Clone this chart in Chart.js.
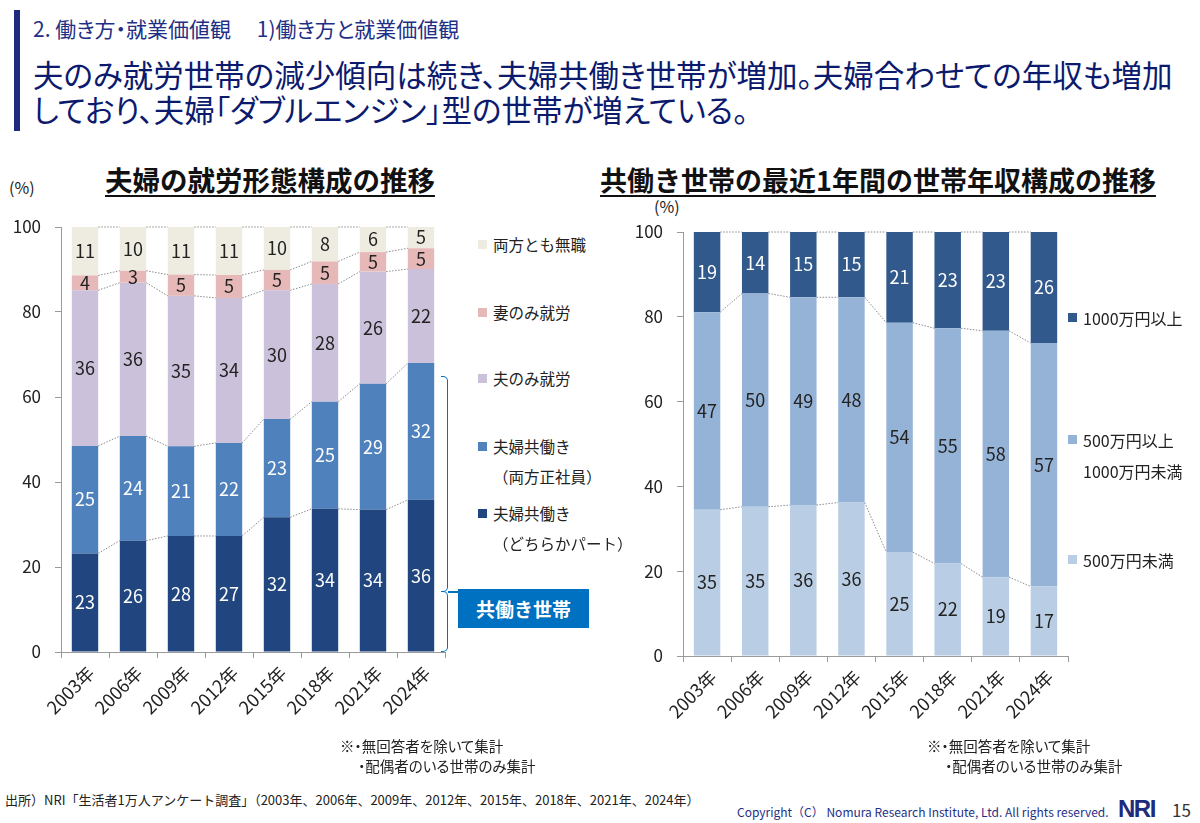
<!DOCTYPE html>
<html lang="ja">
<head>
<meta charset="utf-8">
<script src="https://cdn.jsdelivr.net/npm/chart.js@4.4.1/dist/chart.umd.min.js"></script>
<style>
  body { margin:0; width:1200px; height:823px; position:relative; overflow:hidden; background:#fff;
         font-family:"Noto Sans CJK JP","Noto Sans",sans-serif; color:#111; }
  .t { position:absolute; white-space:nowrap; line-height:1; }
  .p { font-feature-settings:"palt"; }
  .sq { position:absolute; width:9px; height:9px; }
  canvas { position:absolute; }
</style>
</head>
<body>

<div style="position:absolute;left:14px;top:10px;width:6px;height:121px;background:#1f2a7c"></div>
<div class="t p" style="left:33px;top:18px;font-size:21px;color:#1f2f86">2. 働き方・就業価値観　 1)働き方と就業価値観</div>
<div class="t p" style="left:33px;top:59px;font-size:30.5px;color:#0c1a6e">夫のみ就労世帯の減少傾向は続き、夫婦共働き世帯が増加。夫婦合わせての年収も増加</div>
<div class="t p" style="left:33px;top:94px;font-size:30.5px;color:#0c1a6e">しており、夫婦「ダブルエンジン」型の世帯が増えている。</div>

<div class="t" style="left:105px;top:166px;font-size:27.5px;font-weight:bold;text-decoration:underline;text-underline-offset:4px">夫婦の就労形態構成の推移</div>
<div class="t" style="left:600px;top:166px;font-size:27px;font-weight:bold;text-decoration:underline;text-underline-offset:4px">共働き世帯の最近1年間の世帯年収構成の推移</div>

<div class="t" style="left:9px;top:179px;font-size:16px;color:#222">(%)</div>
<div class="t" style="left:654px;top:198px;font-size:16px;color:#222">(%)</div>

<canvas id="left" width="452" height="540" style="left:0;top:200px"></canvas>
<canvas id="right" width="455" height="540" style="left:620px;top:205px"></canvas>

<!-- left legend -->
<div class="sq" style="left:478px;top:240px;background:#eeece1"></div>
<div class="t" style="left:493px;top:237px;font-size:15.5px;color:#222">両方とも無職</div>
<div class="sq" style="left:478px;top:308px;background:#e6b9b8"></div>
<div class="t" style="left:493px;top:305px;font-size:15.5px;color:#222">妻のみ就労</div>
<div class="sq" style="left:478px;top:374px;background:#ccc1da"></div>
<div class="t" style="left:493px;top:371px;font-size:15.5px;color:#222">夫のみ就労</div>
<div class="sq" style="left:478px;top:442px;background:#4f81bd"></div>
<div class="t" style="left:493px;top:439px;font-size:15.5px;color:#222">夫婦共働き</div>
<div class="t" style="left:493px;top:469px;font-size:15.5px;color:#222">（両方正社員）</div>
<div class="sq" style="left:478px;top:509px;background:#21467f"></div>
<div class="t" style="left:493px;top:506px;font-size:15.5px;color:#222">夫婦共働き</div>
<div class="t" style="left:493px;top:536px;font-size:15.5px;color:#222">（どちらかパート）</div>

<!-- bracket -->
<div style="position:absolute;left:441px;top:376px;width:7px;height:216px;border-top:1.5px solid #0070c0;border-right:1.5px solid #0070c0;border-bottom:1.5px solid #0070c0;border-top-right-radius:5px;border-bottom-right-radius:5px;box-sizing:border-box"></div>
<div style="position:absolute;left:441px;top:591px;width:7px;height:61px;border-top:1.5px solid #0070c0;border-right:1.5px solid #0070c0;border-bottom:1.5px solid #0070c0;border-top-right-radius:5px;border-bottom-right-radius:5px;box-sizing:border-box"></div>
<div style="position:absolute;left:448px;top:591px;width:11px;height:1.5px;background:#0070c0"></div>
<div class="t" style="left:458px;top:589px;width:131px;height:39px;background:#0070c0;color:#fff;font-size:19px;font-weight:bold;text-align:center;line-height:39px">共働き世帯</div>

<!-- right legend -->
<div class="sq" style="left:1068px;top:313px;background:#31598b"></div>
<div class="t" style="left:1083px;top:310px;font-size:16px;color:#222">1000万円以上</div>
<div class="sq" style="left:1068px;top:435px;background:#95b3d7"></div>
<div class="t" style="left:1083px;top:432px;font-size:16px;color:#222">500万円以上</div>
<div class="t" style="left:1083px;top:463px;font-size:16px;color:#222">1000万円未満</div>
<div class="sq" style="left:1068px;top:555px;background:#b9cde5"></div>
<div class="t" style="left:1083px;top:552px;font-size:16px;color:#222">500万円未満</div>

<!-- notes -->
<div class="t p" style="left:340px;top:739px;font-size:14.5px;color:#222">※・無回答者を除いて集計</div>
<div class="t p" style="left:358px;top:759px;font-size:14.5px;color:#222">・配偶者のいる世帯のみ集計</div>
<div class="t p" style="left:927px;top:739px;font-size:14.5px;color:#222">※・無回答者を除いて集計</div>
<div class="t p" style="left:945px;top:759px;font-size:14.5px;color:#222">・配偶者のいる世帯のみ集計</div>
<div class="t" style="left:5px;top:793px;font-size:13px;color:#222">出所）NRI「生活者1万人アンケート調査」（2003年、2006年、2009年、2012年、2015年、2018年、2021年、2024年）</div>
<div class="t" style="left:737px;top:806px;font-size:12px;color:#1f2f86">Copyright（C） Nomura Research Institute, Ltd. All rights reserved.</div>
<div class="t" style="left:1118px;top:797px;font-size:24px;font-weight:bold;color:#1f2a7c;letter-spacing:-1.5px;font-family:'Liberation Sans',sans-serif">NRI</div>
<div class="t" style="left:1172px;top:801px;font-size:17px;color:#333">15</div>

<script>
(function() {

const years = ['2003年','2006年','2009年','2012年','2015年','2018年','2021年','2024年'];

// 夫婦の就労形態 (bar heights, %)
const partTime    = [23.2, 26.2, 27.3, 27.3, 31.7, 33.7, 33.5, 35.8];
const fullTime    = [25.3, 24.6, 21.1, 21.9, 23.1, 25.2, 29.6, 32.2];
const husbandOnly = [36.6, 36.1, 35.4, 34.1, 30.3, 27.7, 26.4, 22.1];
const wifeOnly    = [ 3.5,  2.8,  5.0,  5.4,  4.8,  5.3,  4.6,  4.9];
const noneWork    = [11.4, 10.3, 11.2, 11.3, 10.1,  8.1,  5.9,  5.0];
// printed numbers
const partTimeLbl    = [23, 26, 28, 27, 32, 34, 34, 36];
const fullTimeLbl    = [25, 24, 21, 22, 23, 25, 29, 32];
const husbandOnlyLbl = [36, 36, 35, 34, 30, 28, 26, 22];
const wifeOnlyLbl    = [ 4,  3,  5,  5,  5,  5,  5,  5];
const noneWorkLbl    = [11, 10, 11, 11, 10,  8,  6,  5];

// 共働き世帯の年収
const under500  = [34.5, 35.2, 35.6, 36.2, 24.5, 21.8, 18.6, 16.4];
const mid500    = [46.6, 50.3, 49.0, 48.4, 54.1, 55.5, 58.1, 57.4];
const over1000  = [18.9, 14.5, 15.4, 15.4, 21.4, 22.7, 23.3, 26.2];
const under500Lbl = [35, 35, 36, 36, 25, 22, 19, 17];
const mid500Lbl   = [47, 50, 49, 48, 54, 55, 58, 57];
const over1000Lbl = [19, 14, 15, 15, 21, 23, 23, 26];

const yTicks = [0, 20, 40, 60, 80, 100];

//-----dotted connectors + numbers in the bars
function barText(lbls, colors) {
    return {
        id: 'barText',
        afterDatasetsDraw(chart) {
            const ctx = chart.ctx;
            ctx.save();
            ctx.strokeStyle = '#8a8a8a';
            ctx.lineWidth = 1;
            ctx.setLineDash([1.5, 1.5]);
            chart.data.datasets.forEach((ds, d) => {
                const bars = chart.getDatasetMeta(d).data;
                for (let i = 0; i < bars.length - 1; i++) {
                    const a = bars[i], b = bars[i + 1];
                    ctx.beginPath();
                    ctx.moveTo(a.x + a.width / 2, a.y);
                    ctx.lineTo(b.x - b.width / 2, b.y);
                    ctx.stroke();
                }
            });
            ctx.setLineDash([]);
            ctx.font = '18px "Noto Sans CJK JP"';
            ctx.textAlign = 'center';
            ctx.textBaseline = 'middle';
            chart.data.datasets.forEach((ds, d) => {
                chart.getDatasetMeta(d).data.forEach((bar, i) => {
                    ctx.fillStyle = colors[d];
                    ctx.fillText(String(lbls[d][i]), bar.x, (bar.y + bar.base) / 2);
                });
            });
            ctx.restore();
        }
    };
}

function makeChart(id, sets, lbls, txtColors, yWidth, xHeight) {
    new Chart(document.getElementById(id), {
        type: 'bar',
        data: {
            labels: years,
            datasets: sets.map(s => ({
                data: s.data,
                backgroundColor: s.color,
                borderWidth: 0,
                barPercentage: 0.55,
                categoryPercentage: 1.0
            }))
        },
        options: {
            responsive: false,
            animation: false,
            layout: { padding: { top: 27, right: 7, left: 0, bottom: 0 } },
            plugins: { legend: { display: false }, tooltip: { enabled: false } },
            scales: {
                x: {
                    stacked: true,
                    grid: { drawOnChartArea: false, drawTicks: true, tickLength: 6, color: '#9a9a9a' },
                    border: { color: '#9a9a9a' },
                    ticks: { minRotation: 45, maxRotation: 45, padding: 4, labelOffset: 6, color: '#222',
                             font: { size: 18, family: '"Noto Sans CJK JP"' } },
                    afterFit: sc => { sc.height = xHeight; }
                },
                y: {
                    stacked: true,
                    min: 0, max: 100,
                    afterBuildTicks: sc => { sc.ticks = yTicks.map(v => ({ value: v })); },
                    grid: { drawOnChartArea: false, drawTicks: true, tickLength: 6, color: '#9a9a9a' },
                    border: { color: '#9a9a9a' },
                    ticks: { padding: 14, color: '#222', font: { size: 17, family: '"Noto Sans CJK JP"' } },
                    afterFit: sc => { sc.width = yWidth; }
                }
            }
        },
        plugins: [barText(lbls, txtColors)]
    });
}

makeChart('left', [
    { data: partTime,    color: '#21467f' },
    { data: fullTime,    color: '#4f81bd' },
    { data: husbandOnly, color: '#ccc1da' },
    { data: wifeOnly,    color: '#e6b9b8' },
    { data: noneWork,    color: '#eeece1' }
], [partTimeLbl, fullTimeLbl, husbandOnlyLbl, wifeOnlyLbl, noneWorkLbl],
   ['#fff', '#fff', '#222', '#222', '#222'], 61, 88);

makeChart('right', [
    { data: under500, color: '#b9cde5' },
    { data: mid500,   color: '#95b3d7' },
    { data: over1000, color: '#31598b' }
], [under500Lbl, mid500Lbl, over1000Lbl],
   ['#222', '#222', '#fff'], 63, 89);

})();
</script>
</body>
</html>
